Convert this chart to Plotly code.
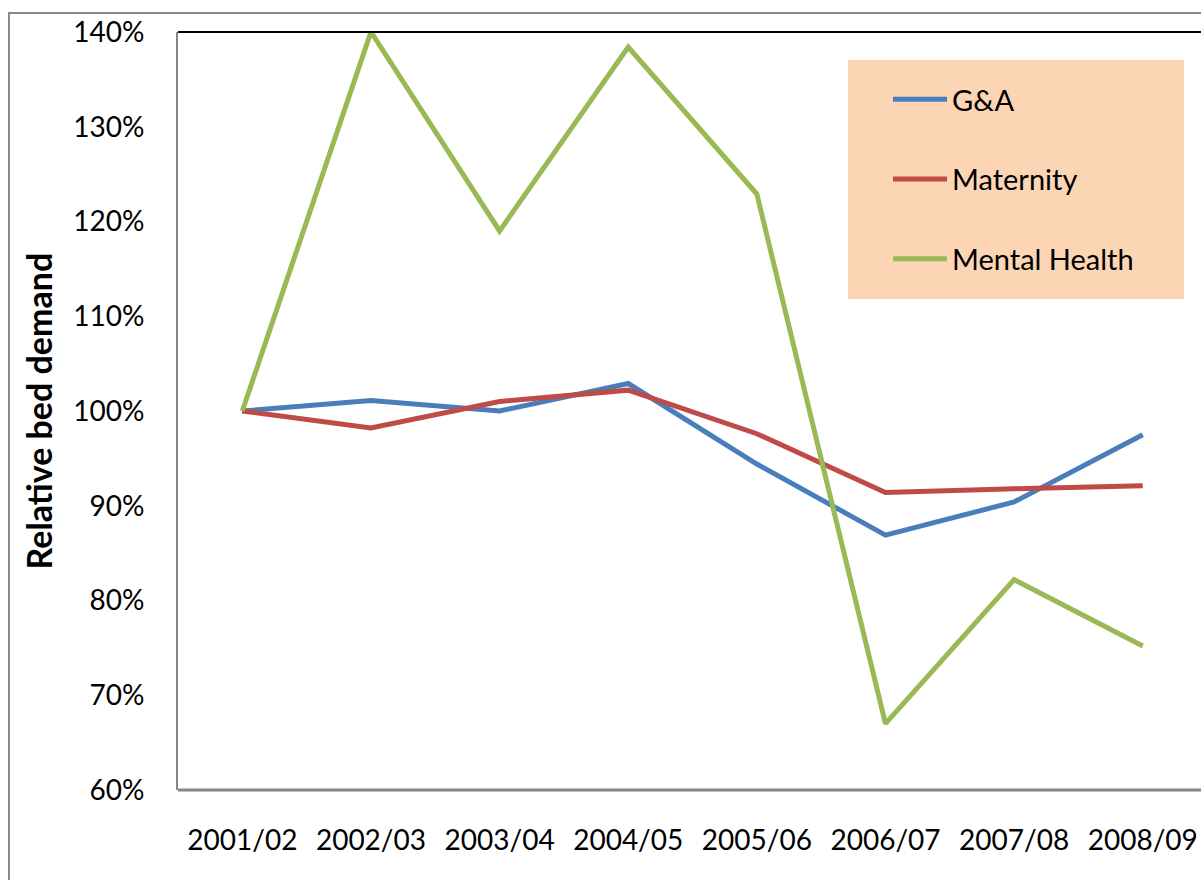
import plotly.graph_objects as go

years = ["2001/02", "2002/03", "2003/04", "2004/05", "2005/06", "2006/07", "2007/08", "2008/09"]
ga = [100.0, 101.1, 100.0, 102.9, 94.4, 86.9, 90.4, 97.5]
maternity = [100.0, 98.2, 101.0, 102.2, 97.6, 91.4, 91.8, 92.1]
mental_health = [100.0, 140.0, 119.0, 138.4, 122.9, 67.0, 82.2, 75.2]

series_names = ["G&A", "Maternity", "Mental Health"]
series_values = [ga, maternity, mental_health]
series_colors = ["#4A7EBB", "#BE4B48", "#98B954"]

y_ticks = [60, 70, 80, 90, 100, 110, 120, 130, 140]
y_tick_labels = [f"{v}%" for v in y_ticks]

FONT = "Lato"
PW = 1023.0  # plot width (px)
PH = 758.0   # plot height (px)
PX0 = 178.0  # plot left on page
PY0 = 32.0   # plot top on page


def px(x):
    return (x - PX0) / PW


def py(y):
    return 1 - (y - PY0) / PH


fig = go.Figure()
for name, vals, col in zip(series_names, series_values, series_colors):
    fig.add_trace(go.Scatter(
        x=years, y=vals, mode="lines", name=name,
        line=dict(color=col, width=5), legendgroup=name, cliponaxis=False,
    ))

fig.update_layout(
    width=1201, height=880,
    margin=dict(l=178, r=0, t=32, b=90),
    paper_bgcolor="white", plot_bgcolor="white",
    font=dict(family=FONT, size=28, color="black"),
    showlegend=True,
    legend=dict(
        x=px(888), y=py(74), xanchor="left", yanchor="top",
        bgcolor="rgba(0,0,0,0)", tracegroupgap=39, itemwidth=54,
        font=dict(family=FONT, size=29, color="black"),
    ),
    xaxis=dict(
        type="category", range=[-0.5, 7.453], showgrid=False, zeroline=False,
        showline=False, ticks="", ticklabelstandoff=31,
        tickfont=dict(family=FONT, size=28, color="black"),
    ),
    yaxis=dict(
        range=[60, 140], tickvals=y_ticks, ticktext=y_tick_labels,
        showgrid=False, zeroline=False, showline=True, linecolor="#868686", linewidth=2,
        ticks="", ticklabelstandoff=26,
        tickfont=dict(family=FONT, size=28, color="black"),
    ),
    shapes=[
        dict(type="rect", xref="paper", yref="paper", x0=px(9), x1=1.2,
             y0=-0.5, y1=py(13), line=dict(color="#898989", width=2),
             fillcolor="rgba(0,0,0,0)", layer="below"),
        dict(type="line", xref="paper", yref="paper", x0=0, x1=1, y0=0, y1=0,
             line=dict(color="#868686", width=3)),
        dict(type="line", xref="paper", yref="paper", x0=0, x1=1, y0=1, y1=1,
             line=dict(color="black", width=2)),
        dict(type="rect", xref="paper", yref="paper",
             x0=px(848), x1=px(1184), y0=py(299), y1=py(60),
             fillcolor="#FCD5B5", line=dict(width=0), layer="below"),
    ],
    annotations=[
        dict(text="<b>Relative bed demand</b>", xref="paper", yref="paper",
             x=px(38), y=py(411.5), textangle=-90,
             showarrow=False, xanchor="center", yanchor="middle",
             font=dict(family=FONT, size=34, color="black")),
    ],
)

fig.write_html(
    "out.html",
    config={"displayModeBar": False},
    post_script="document.body.style.margin='0';document.body.style.overflow='hidden';",
)
